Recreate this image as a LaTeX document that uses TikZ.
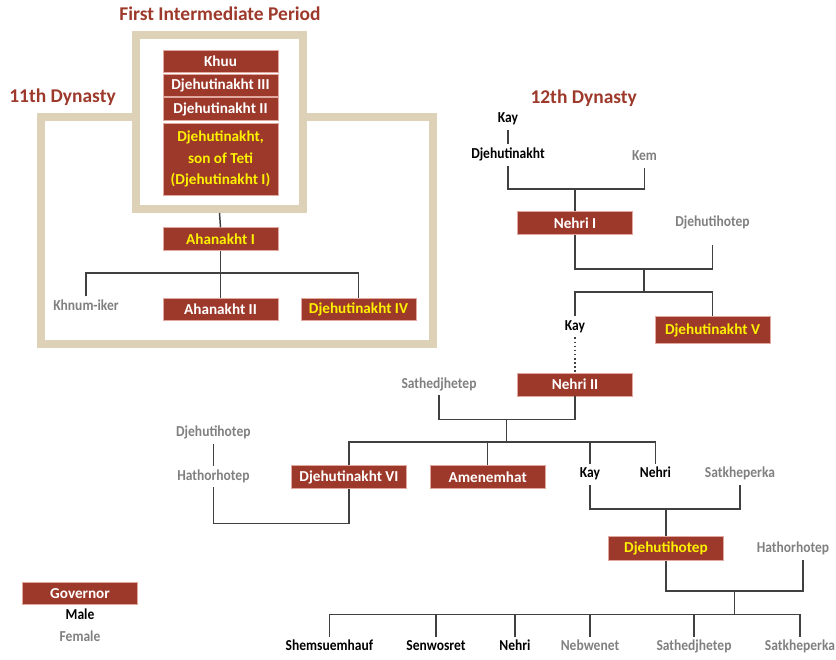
\documentclass[tikz,border=0pt]{standalone}
\usepackage{fontspec}
\setmainfont{Carlito}
\newfontfamily\namefont[FakeStretch=0.89]{Carlito}
\usepackage{tikz}
\usetikzlibrary{positioning,calc}

\definecolor{govred}{RGB}{157,57,43}
\definecolor{govedge}{RGB}{224,168,158}
\definecolor{govyellow}{RGB}{255,242,0}
\definecolor{femgray}{RGB}{128,128,128}
\definecolor{linegray}{RGB}{64,64,64}
\definecolor{tan}{RGB}{221,209,184}

\tikzset{
  every node/.style={font=\bfseries\fontsize{11.4}{13}\selectfont},
  gov/.style={rectangle, fill=govred, draw=govedge, line width=0.6pt,
    text=white, inner sep=0pt, minimum width=86.25pt, minimum height=16.9pt},
  govy/.style={gov, text=govyellow},
  male/.style={text=black, inner sep=2.8pt, text height=7.5pt, text depth=2.5pt,
    font=\namefont\bfseries\fontsize{11.4}{13}\selectfont},
  female/.style={male, text=femgray},
  conn/.style={draw=linegray, line width=1.1pt},
  frame/.style={draw=tan, line width=6pt, fill=white},
  title/.style={text=govred, font=\bfseries\fontsize{14.6}{16}\selectfont}
}

\begin{document}
\begin{tikzpicture}[x=0.75pt,y=-0.75pt]
  \useasboundingbox (0,0) rectangle (836,660);

  % ---- 11th Dynasty (left) ----
  \node[frame, minimum width=294pt, minimum height=170.25pt] (dyn11) at (237,230.5) {};
  \node[title] (t11) at (62.5,97) {11th Dynasty};
  % First Intermediate Period
  \node[frame, minimum width=125.25pt, minimum height=130.5pt] (fip) at (219.5,122) {};
  \node[title] (tfip) at (220,14) {First Intermediate Period};

  \node[gov] (khuu) at (220.5,61.5) {Khuu};
  \node[gov] (dj3) at (220.5,85.5) {Djehutinakht III};
  \node[gov] (dj2) at (220.5,109) {Djehutinakht II};
  \node[govy, minimum height=54pt, align=center,
    font=\bfseries\fontsize{11.4}{15.8}\selectfont] (dj1) at (220.5,159)
    {Djehutinakht,\\son of Teti\\(Djehutinakht I)};

  \node[govy] (ahan1) at (220.5,239) {Ahanakht I};
  \node[female] (khnum) at (86,307) {Khnum-iker};
  \node[gov] (ahan2) at (220.5,309.5) {Ahanakht II};
  \node[govy] (dj4) at (358.5,309.5) {Djehutinakht IV};

  \draw[conn] (fip.south) -- (ahan1.north);
  \coordinate (j0) at (220.5,273);
  \draw[conn] (ahan1.south) -- (ahan2.north);
  \draw[conn] (khnum.north) |- (j0) -| (dj4.north);

  % ---- 12th Dynasty (right) ----
  \node[title] (t12) at (583.7,98) {12th Dynasty};
  \node[male] (kay1) at (508,119) {Kay};
  \node[male] (djn) at (508,155) {Djehutinakht};
  \node[female] (kem) at (644.5,157) {Kem};
  \draw[conn] (kay1) -- (djn);

  \coordinate (j1) at (575,189);
  \node[gov] (nehri1) at (575,223) {Nehri I};
  \draw[conn] (djn.south) |- (j1) -| (kem.south);
  \draw[conn] (j1) -- (nehri1.north);

  \node[female] (djhot1) at (712.5,222.7) {Djehutihotep};
  \coordinate (j2) at (644,269);
  \coordinate (j3) at (644,292);
  \draw[conn] (nehri1.south) |- (j2) -| ([yshift=-9pt]djhot1.south);
  \draw[conn] (j2) -- (j3);

  \node[male] (kay2) at (575,326.7) {Kay};
  \node[govy, minimum height=20.25pt] (dj5) at (712.5,330) {Djehutinakht V};
  \draw[conn] (kay2.north) |- (j3) -| (dj5.north);

  \node[gov] (nehri2) at (575,384.7) {Nehri II};
  \draw[conn, dotted] (kay2.south) -- (nehri2.north);
  \node[female] (sath1) at (439,384.7) {Sathedjhetep};
  \coordinate (j4) at (506.5,419.3);
  \coordinate (j5) at (506.5,442);
  \draw[conn] (sath1.south) |- (j4) -| (nehri2.south);
  \draw[conn] (j4) -- (j5);

  % children of Nehri II
  \node[gov] (dj6) at (349,477) {Djehutinakht VI};
  \node[gov] (amen) at (487.7,477) {Amenemhat};
  \node[male] (kay3) at (590,474.3) {Kay};
  \node[male] (nehri3) at (655.5,474.3) {Nehri};
  \node[female] (satk1) at (740,474.3) {Satkheperka};
  \draw[conn] (dj6.north) |- (j5) -| (nehri3.north);
  \draw[conn] (amen.north) -- (amen.north |- j5);
  \draw[conn] (kay3.north) -- (kay3.north |- j5);

  \node[female] (djhot2) at (213.4,433.3) {Djehutihotep};
  \node[female] (hath1) at (213.4,476.7) {Hathorhotep};
  \coordinate (j6) at (349,523.3);
  \draw[conn] (djhot2) -- (hath1);
  \draw[conn] (hath1.south) |- (j6) -- (dj6.south);

  \node[govy, minimum height=18pt] (djhot3) at (666,548.7) {Djehutihotep};
  \node[female] (hath2) at (793,549.3) {Hathorhotep};
  \coordinate (j7) at (666,509);
  \draw[conn] (kay3.south) |- (j7) -| (satk1.south);
  \draw[conn] (j7) -- (djhot3.north);

  \coordinate (j8) at (734.4,591);
  \coordinate (j9) at (734.4,614.3);
  \draw[conn] (djhot3.south) |- (j8) -| ([xshift=7.5pt]hath2.south);
  \draw[conn] (j8) -- (j9);

  % children of Djehutihotep
  \node[male] (c1) at (329.4,647.3) {Shemsuemhauf};
  \node[male] (c2) at (436,647.3) {Senwosret};
  \node[male] (c3) at (515,647.3) {Nehri};
  \node[female] (c4) at (590,647.3) {Nebwenet};
  \node[female] (c5) at (694,647.3) {Sathedjhetep};
  \node[female] (c6) at (800,647.3) {Satkheperka};
  \draw[conn] (c1.north) |- (j9) -| (c6.north);
  \foreach \c in {c2,c3,c4,c5}
    \draw[conn] (\c.north) -- (\c.north |- j9);

  % ---- Legend ----
  \node[gov] (lgov) at (80,593.5) {Governor};
  \node[male] (lmale) at (80,616) {Male};
  \node[female] (lfem) at (80,638.3) {Female};
\end{tikzpicture}
\end{document}
